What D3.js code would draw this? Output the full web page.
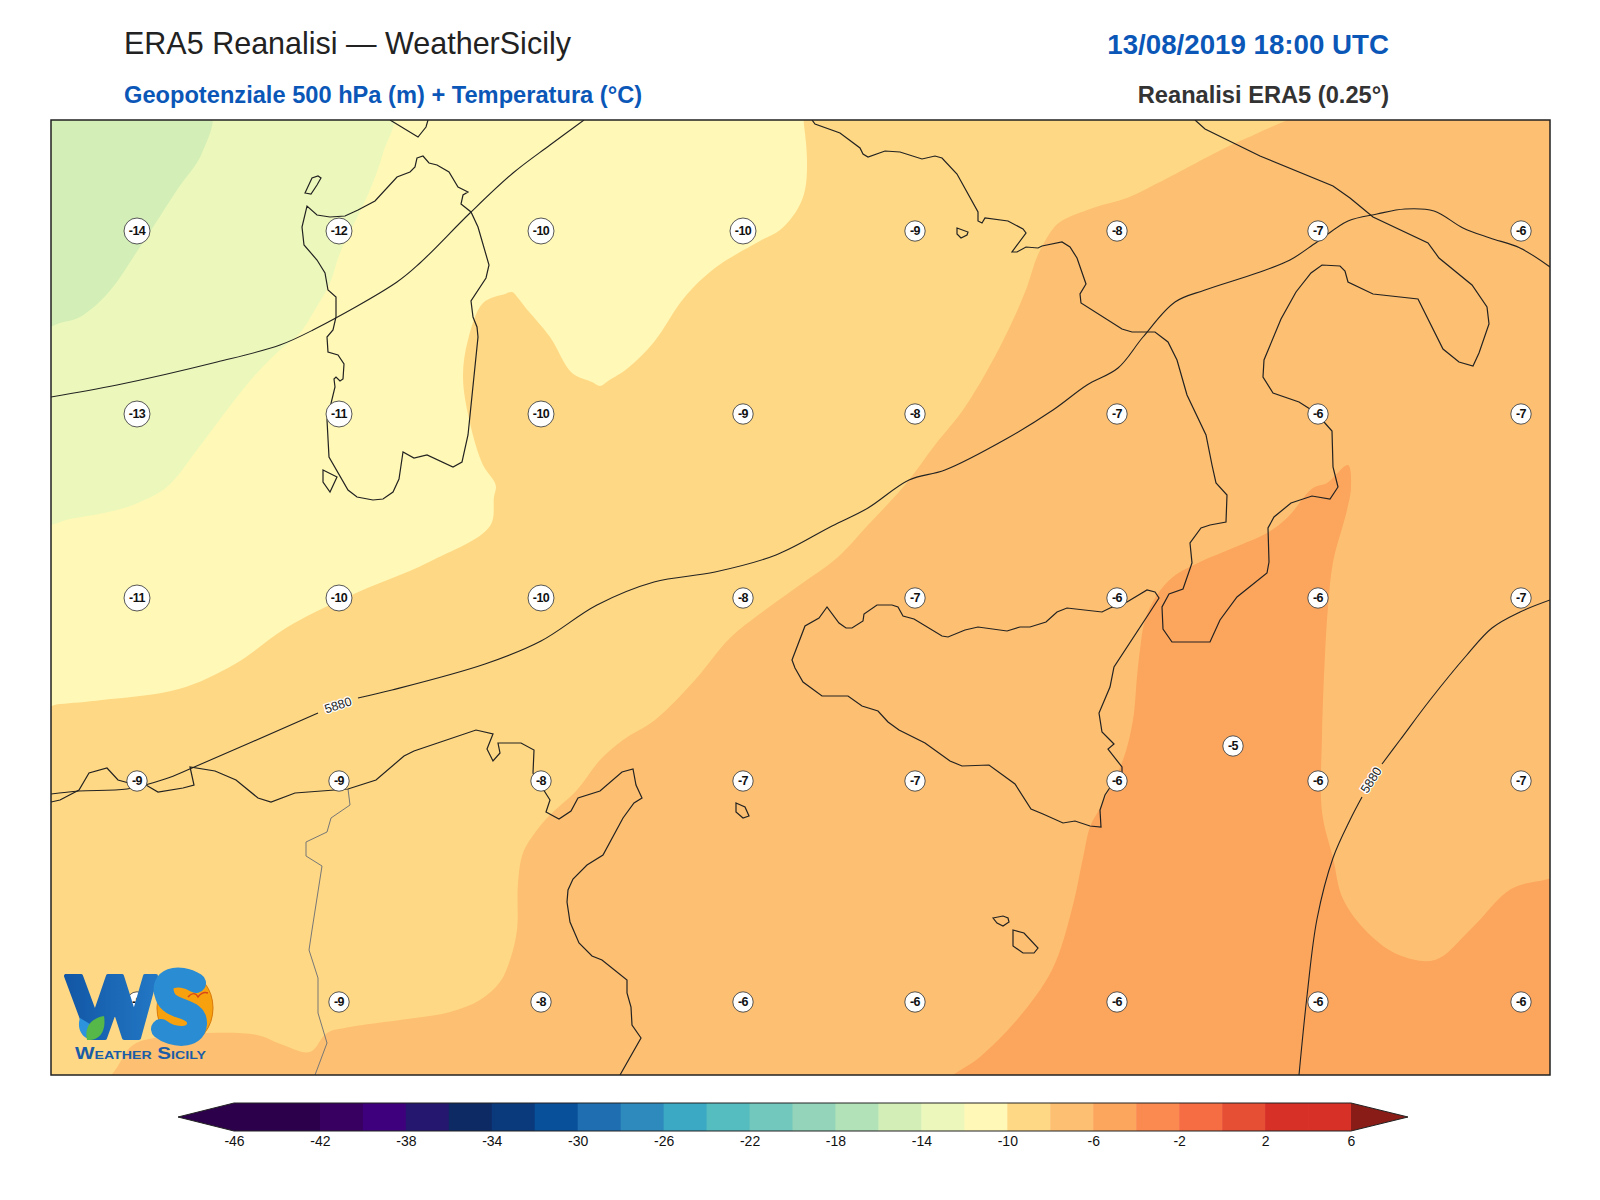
<!DOCTYPE html>
<html>
<head>
<meta charset="utf-8">
<title>ERA5 Reanalisi - WeatherSicily</title>
<script src="https://cdn.jsdelivr.net/npm/d3@7"></script>
<style>
  html, body { margin: 0; padding: 0; background: #fff; }
  svg { display: block; }
  text { font-family: "Liberation Sans", Arial, sans-serif; }
</style>
</head>
<body>
<div id="chart"></div>
<script>
var colorLevels = [-46, -44, -42, -40, -38, -36, -34, -32, -30, -28, -26, -24, -22, -20, -18, -16, -14, -12, -10, -8, -6, -4, -2, 0, 2, 4, 6];
var bandColors = ["#2d004b", "#2d004b", "#380060", "#3f007d", "#25176f", "#0d2a65", "#0a3a7c", "#08509a", "#1f6eb1", "#2e8abd", "#3ba8c4", "#55bcbf", "#72c8bd", "#93d4ba", "#b2e2b7", "#d3eeb7", "#ecf8bb", "#fff8b6", "#fed884", "#fdbf71", "#fca55d", "#fb8a50", "#f66c43", "#e64f33", "#d73027", "#d73027"];
var colorTicks = [-46, -42, -38, -34, -30, -26, -22, -18, -14, -10, -6, -2, 2, 6];

// temperature labels
var gridX = [137, 339, 541, 743, 915, 1117, 1318, 1521];
var gridY = [231, 414, 598, 781, 1002];
var gridTemp = [
  [-14, -12, -10, -10, -9, -8, -7, -6],
  [-13, -11, -10, -9, -8, -7, -6, -7],
  [-11, -10, -10, -8, -7, -6, -6, -7],
  [-9, -9, -8, -7, -7, -6, -6, -7],
  [-9, -9, -8, -6, -6, -6, -6, -6]
];
var extraTemp = [[1233, 746, -5]];

// temperature bands, lowest one fills the frame
var bandMinus10 = [[40,110],[1300,110],[1260,132],[1227,147],[1160,182],[1127,198],[1093,208],[1060,222],[1050,233],[1037,257],[1027,287],[1013,320],[993,360],[963,410],[935,445],[905,485],[868,525],[838,557],[797,587],[761,613],[730,638],[695,680],[655,720],[623,740],[600,760],[577,790],[550,815],[537,830],[523,853],[518,883],[517,930],[510,960],[500,982],[480,1000],[450,1012],[400,1020],[350,1027],[327,1033],[310,1052],[283,1045],[257,1035],[207,1033],[160,1037],[133,1045],[105,1080],[40,1085]];
var bandMinus12 = [[40,110],[790,110],[802,112],[804,125],[807,160],[805,190],[797,210],[780,230],[760,241],[715,268],[684,298],[654,342],[628,368],[608,381],[600,386],[592,382],[572,373],[550,337],[525,307],[518,298],[512,292],[505,294],[483,303],[468,340],[463,377],[470,423],[483,465],[494,481],[496,487],[494,497],[490,526],[429,562],[347,597],[286,628],[235,664],[179,689],[102,700],[60,704],[40,705]];
var bandMinus14 = [[40,110],[392,110],[383,153],[370,190],[340,253],[330,283],[313,313],[300,333],[280,350],[257,373],[227,410],[197,450],[167,487],[140,502],[117,510],[70,519],[40,523]];
var bandMinus16 = [[40,110],[210,110],[202,153],[177,190],[140,247],[108,293],[80,317],[60,323],[40,328]];
var bandMinus6 = [[1348,465],[1351,487],[1347,510],[1333,562],[1328,607],[1325,654],[1322,735],[1322,812],[1333,858],[1343,899],[1369,934],[1399,955],[1435,960],[1471,929],[1511,889],[1540,881],[1560,880],[1560,1085],[945,1085],[980,1057],[1016,1021],[1052,970],[1072,909],[1083,858],[1090,827],[1100,808],[1123,760],[1133,720],[1137,677],[1140,650],[1145,620],[1157,595],[1173,577],[1200,562],[1233,548],[1267,533],[1287,518],[1313,488],[1327,483]];

// 500 hPa height, 5880 m
var heightNorth = [[51,397],[117,385],[217,362],[280,345],[313,330],[397,282],[420,263],[470,213],[513,173],[550,145],[584,120]];
var heightMidA = [[51,794],[79,791],[127,789],[165,779],[192,768],[318,713]];
var heightMidB = [[358,698],[392,690],[485,664],[541,641],[597,605],[654,582],[715,572],[776,555],[832,526],[868,508],[909,480],[945,470],[1006,439],[1053,410],[1087,385],[1118,368],[1143,337],[1175,302],[1205,290],[1257,273],[1290,260],[1317,242],[1348,221],[1377,214],[1405,209],[1434,211],[1463,228],[1490,238],[1520,248],[1550,267]];
var heightEastA = [[1550,600],[1520,612],[1492,628],[1466,656],[1430,700],[1400,740],[1382,764]];
var heightEastB = [[1362,797],[1350,820],[1333,858],[1317,919],[1307,996],[1299,1075]];
var heightLabels = [[338,705,-18],[1371,780,-58]];

// coastlines
var coastSardinia = [[417,158],[423,156],[429,163],[437,165],[449,172],[458,187],[468,192],[463,195],[461,204],[471,212],[478,227],[489,265],[486,278],[471,301],[473,317],[477,327],[478,337],[468,435],[462,462],[453,467],[427,455],[414,458],[403,452],[399,479],[393,492],[383,499],[373,500],[357,497],[348,490],[329,457],[327,420],[335,387],[334,379],[336,377],[340,381],[343,379],[344,364],[338,355],[328,352],[327,337],[333,330],[336,317],[336,297],[328,290],[325,273],[317,260],[304,245],[302,227],[307,206],[317,215],[330,217],[345,216],[358,210],[375,201],[397,177],[410,172],[415,167]];
var coastAsinara = [[305,193],[311,194],[317,185],[321,178],[318,176],[312,178]];
var coastSantAntioco = [[323,470],[337,477],[330,492],[323,482]];
var coastCorsica = [[390,120],[418,137],[426,127],[428,120]];
var coastItaly = [[812,120],[815,124],[840,133],[860,148],[863,154],[868,157],[885,151],[900,152],[922,159],[935,156],[942,158],[957,174],[978,212],[978,221],[982,223],[985,218],[1008,221],[1023,229],[1026,233],[1012,252],[1017,252],[1026,247],[1038,248],[1042,246],[1062,242],[1070,247],[1077,258],[1086,284],[1080,294],[1081,303],[1122,329],[1132,332],[1155,332],[1168,342],[1177,360],[1187,395],[1206,435],[1212,465],[1216,483],[1227,495],[1226,522],[1210,525],[1201,528],[1190,543],[1192,563],[1183,589],[1169,594],[1162,607],[1163,629],[1172,642],[1210,642],[1220,620],[1237,597],[1267,573],[1269,562],[1268,528],[1274,517],[1291,503],[1312,496],[1330,499],[1338,487],[1333,467],[1332,431],[1324,422],[1310,409],[1299,402],[1273,393],[1263,377],[1264,360],[1281,319],[1296,292],[1311,273],[1322,265],[1340,266],[1345,271],[1348,282],[1373,294],[1418,299],[1443,349],[1459,362],[1473,366],[1479,353],[1489,324],[1487,307],[1472,285],[1439,258],[1428,243],[1373,217],[1350,198],[1333,186],[1260,156],[1205,129],[1195,120]];
var coastSicily = [[827,607],[819,618],[805,626],[792,660],[795,668],[803,682],[822,696],[848,696],[862,706],[878,711],[888,722],[899,730],[925,743],[950,761],[962,766],[989,765],[1015,784],[1031,809],[1043,814],[1063,823],[1075,821],[1090,826],[1101,827],[1100,810],[1105,795],[1113,783],[1122,773],[1122,767],[1108,749],[1114,744],[1110,740],[1102,732],[1099,713],[1110,687],[1114,667],[1150,612],[1159,598],[1155,592],[1147,590],[1127,602],[1110,608],[1102,612],[1067,608],[1057,612],[1046,622],[1030,627],[1020,627],[1007,631],[978,627],[965,630],[948,637],[942,636],[914,619],[903,616],[898,607],[892,605],[877,605],[864,614],[863,621],[852,628],[846,628],[839,623]];
var coastAfrica = [[51,802],[60,800],[79,790],[89,773],[107,768],[118,780],[136,785],[146,785],[158,792],[183,788],[194,785],[190,767],[215,771],[236,780],[258,798],[271,802],[295,793],[348,789],[376,780],[404,756],[414,751],[476,730],[493,734],[487,749],[493,761],[500,753],[498,743],[521,743],[534,750],[533,773],[550,800],[546,812],[559,819],[571,811],[578,798],[600,791],[622,772],[633,769],[636,785],[642,798],[634,803],[623,818],[603,855],[587,865],[573,879],[568,890],[567,902],[570,922],[579,943],[592,956],[602,960],[627,980],[627,993],[631,1007],[632,1025],[641,1038],[620,1075]];
var coastPantelleria = [[736,803],[745,807],[749,816],[743,818],[736,812]];
var coastUstica = [[957,228],[968,232],[967,235],[961,238],[957,234]];
var coastGozo = [[993,918],[1003,916],[1008,918],[1009,922],[1003,926],[997,923]];
var coastMalta = [[1013,930],[1024,933],[1038,948],[1034,953],[1023,953],[1013,946]];
var borderLibya = [[348,789],[350,805],[331,818],[327,832],[306,842],[306,856],[322,866],[312,930],[309,950],[318,978],[318,1013],[327,1043],[315,1075]];

var width = 1600,
  height = 1200,
  frame = { left: 51, right: 1550, top: 120, bottom: 1075 };

var svg = d3
  .select("#chart")
  .append("svg")
  .attr("width", width)
  .attr("height", height);

var x = d3.scaleLinear().domain([frame.left, frame.right]).range([frame.left, frame.right]);
var y = d3.scaleLinear().domain([frame.top, frame.bottom]).range([frame.top, frame.bottom]);

var path = d3
  .line()
  .x(function (d) { return x(d[0]); })
  .y(function (d) { return y(d[1]); });

// bands and height lines are smooth, the coast stays as a polyline
var smoothPath = d3
  .line()
  .x(function (d) { return x(d[0]); })
  .y(function (d) { return y(d[1]); })
  .curve(d3.curveCatmullRom.alpha(0.5));

var smoothClosed = d3
  .line()
  .x(function (d) { return x(d[0]); })
  .y(function (d) { return y(d[1]); })
  .curve(d3.curveCatmullRomClosed.alpha(0.5));

function bandColor(level) {
  return bandColors[colorLevels.indexOf(level)];
}

// titles
function title(txt, xPos, yPos, size, weight, color, anchor) {
  svg
    .append("text")
    .attr("x", xPos)
    .attr("y", yPos)
    .attr("font-size", size)
    .attr("font-weight", weight)
    .attr("fill", color)
    .attr("text-anchor", anchor)
    .text(txt);
}
title("ERA5 Reanalisi \u2014 WeatherSicily", 124, 54, 30.5, "normal", "#222", "start");
title("13/08/2019 18:00 UTC", 1389, 54, 27.7, "bold", "#0b57b8", "end");
title("Geopotenziale 500 hPa (m) + Temperatura (\u00b0C)", 124, 103, 23.65, "bold", "#0b57b8", "start");
title("Reanalisi ERA5 (0.25\u00b0)", 1389, 103, 23.65, "bold", "#333", "end");

// map
svg
  .append("clipPath")
  .attr("id", "frame-clip")
  .append("rect")
  .attr("x", frame.left)
  .attr("y", frame.top)
  .attr("width", frame.right - frame.left)
  .attr("height", frame.bottom - frame.top);

var map = svg.append("g").attr("clip-path", "url(#frame-clip)");

map
  .append("rect")
  .attr("x", frame.left)
  .attr("y", frame.top)
  .attr("width", frame.right - frame.left)
  .attr("height", frame.bottom - frame.top)
  .attr("fill", bandColor(-8));

var bands = [
  { level: -10, points: bandMinus10 },
  { level: -12, points: bandMinus12 },
  { level: -14, points: bandMinus14 },
  { level: -16, points: bandMinus16 },
  { level: -6, points: bandMinus6 }
];
map
  .selectAll("path.band")
  .data(bands)
  .enter()
  .append("path")
  .attr("class", "band")
  .attr("d", function (d) { return smoothClosed(d.points); })
  .attr("fill", function (d) { return bandColor(d.level); });

// borders and coasts
map
  .append("path")
  .attr("d", path(borderLibya))
  .attr("fill", "none")
  .attr("stroke", "#777")
  .attr("stroke-width", 1);

var closedCoasts = [coastSardinia, coastAsinara, coastSantAntioco, coastSicily, coastPantelleria, coastUstica, coastGozo, coastMalta];
var openCoasts = [coastCorsica, coastItaly, coastAfrica];

map
  .selectAll("path.coast-closed")
  .data(closedCoasts)
  .enter()
  .append("path")
  .attr("class", "coast-closed")
  .attr("d", function (d) { return path(d) + "Z"; })
  .attr("fill", "none")
  .attr("stroke", "#222")
  .attr("stroke-width", 1.2);

map
  .selectAll("path.coast-open")
  .data(openCoasts)
  .enter()
  .append("path")
  .attr("class", "coast-open")
  .attr("d", path)
  .attr("fill", "none")
  .attr("stroke", "#222")
  .attr("stroke-width", 1.2);

// height contours
map
  .selectAll("path.height")
  .data([heightNorth, heightMidA, heightMidB, heightEastA, heightEastB])
  .enter()
  .append("path")
  .attr("class", "height")
  .attr("d", smoothPath)
  .attr("fill", "none")
  .attr("stroke", "#222")
  .attr("stroke-width", 1.1);

map
  .selectAll("text.height-label")
  .data(heightLabels)
  .enter()
  .append("text")
  .attr("class", "height-label")
  .attr("transform", function (d) {
    return "translate(" + x(d[0]) + "," + y(d[1]) + ") rotate(" + d[2] + ")";
  })
  .attr("text-anchor", "middle")
  .attr("dy", "0.35em")
  .attr("font-size", 12.5)
  .attr("fill", "#222")
  .attr("stroke", "#fff")
  .attr("stroke-width", 2.5)
  .attr("paint-order", "stroke")
  .text("5880");

// temperature markers
var markers = [];
gridTemp.forEach(function (row, r) {
  row.forEach(function (t, c) {
    markers.push({ px: gridX[c], py: gridY[r], t: t });
  });
});
extraTemp.forEach(function (e) {
  markers.push({ px: e[0], py: e[1], t: e[2] });
});

var marker = map
  .selectAll("g.marker")
  .data(markers)
  .enter()
  .append("g")
  .attr("class", "marker")
  .attr("transform", function (d) {
    return "translate(" + x(d.px) + "," + y(d.py) + ")";
  });

marker
  .append("circle")
  .attr("r", function (d) { return String(d.t).length > 2 ? 13 : 10.2; })
  .attr("fill", "#fff")
  .attr("stroke", "#444")
  .attr("stroke-width", 0.9);

marker
  .append("text")
  .attr("text-anchor", "middle")
  .attr("dy", "0.35em")
  .attr("font-size", 12.5)
  .attr("font-weight", "bold")
  .attr("letter-spacing", -0.5)
  .attr("fill", "#111")
  .text(function (d) { return d.t; });

// logo, drawn over the markers
var logo = svg.append("g");
var logoGrad = svg.append("defs").append("linearGradient").attr("id", "logo-w").attr("x1", 0).attr("x2", 1);
logoGrad.append("stop").attr("offset", 0).attr("stop-color", "#1257a6");
logoGrad.append("stop").attr("offset", 1).attr("stop-color", "#2277c4");

logo
  .append("path")
  .attr("d", "M66 976 L81 976 L95 1014 L108 976 L122 976 L134 1014 L145 976 L156 976 L139 1038 L124 1038 L115 1010 L105 1038 L89 1038 Z")
  .attr("fill", "url(#logo-w)")
  .attr("stroke", "url(#logo-w)")
  .attr("stroke-width", 4)
  .attr("stroke-linejoin", "round");
logo
  .append("path")
  .attr("d", "M80 1018 C76 1030 84 1040 92 1039 L100 1030 Z")
  .attr("fill", "#2c93dc");
logo
  .append("path")
  .attr("d", "M87 1040 C84 1026 92 1018 104 1016 C106 1028 102 1039 90 1040 Z")
  .attr("fill", "#55b848");
logo
  .append("ellipse")
  .attr("cx", 185)
  .attr("cy", 1008)
  .attr("rx", 28)
  .attr("ry", 35)
  .attr("fill", "#f7a10e")
  .attr("stroke", "#d9780a")
  .attr("stroke-width", 1);
logo
  .append("path")
  .attr("d", "M196 983 C178 972 158 978 165 996 C170 1012 198 1006 197 1024 C196 1040 172 1038 161 1029")
  .attr("fill", "none")
  .attr("stroke", "#2a8cd3")
  .attr("stroke-width", 20)
  .attr("stroke-linecap", "round");
logo
  .append("path")
  .attr("d", "M188 997 C192 992 196 993 198 997 C201 993 205 992 208 993")
  .attr("fill", "none")
  .attr("stroke", "#d8471a")
  .attr("stroke-width", 1.4);
logo
  .append("text")
  .attr("x", 75)
  .attr("y", 1059)
  .attr("font-size", 16)
  .attr("font-weight", "bold")
  .attr("fill", "#1a5ca6")
  .attr("textLength", 131)
  .attr("lengthAdjust", "spacingAndGlyphs")
  .attr("style", "font-variant:small-caps")
  .text("Weather Sicily");

// frame
svg
  .append("rect")
  .attr("x", frame.left)
  .attr("y", frame.top)
  .attr("width", frame.right - frame.left)
  .attr("height", frame.bottom - frame.top)
  .attr("fill", "none")
  .attr("stroke", "#222")
  .attr("stroke-width", 1.5);

// colorbar
var barTop = 1103,
  barBottom = 1131,
  barMid = (barTop + barBottom) / 2;

var cb = d3.scaleLinear().domain([-46, 6]).range([234, 1351]);

var bar = svg.append("g");
bar
  .selectAll("rect")
  .data(bandColors)
  .enter()
  .append("rect")
  .attr("x", function (d, i) { return cb(colorLevels[i]); })
  .attr("y", barTop)
  .attr("width", function (d, i) { return cb(colorLevels[i + 1]) - cb(colorLevels[i]) + 0.5; })
  .attr("height", barBottom - barTop)
  .attr("fill", function (d) { return d; });

var triangle = d3.line();
bar
  .append("path")
  .attr("d", triangle([[cb(-46), barTop], [178, barMid], [cb(-46), barBottom]]) + "Z")
  .attr("fill", "#2d004b");
bar
  .append("path")
  .attr("d", triangle([[cb(6), barTop], [1408, barMid], [cb(6), barBottom]]) + "Z")
  .attr("fill", "#8a1c17");
bar
  .append("path")
  .attr("d", triangle([[cb(-46), barTop], [178, barMid], [cb(-46), barBottom], [cb(6), barBottom], [1408, barMid], [cb(6), barTop]]) + "Z")
  .attr("fill", "none")
  .attr("stroke", "#222")
  .attr("stroke-width", 1);

var cbAxis = svg
  .append("g")
  .attr("transform", "translate(0," + barBottom + ")")
  .call(
    d3
      .axisBottom(cb)
      .tickValues(colorTicks)
      .tickFormat(function (d) { return String(d); })
      .tickSize(0)
      .tickPadding(5)
  );
cbAxis.select(".domain").remove();
cbAxis.selectAll("text").attr("font-size", 14).attr("font-family", "'Liberation Sans', Arial, sans-serif").attr("fill", "#111");
</script>
</body>
</html>
